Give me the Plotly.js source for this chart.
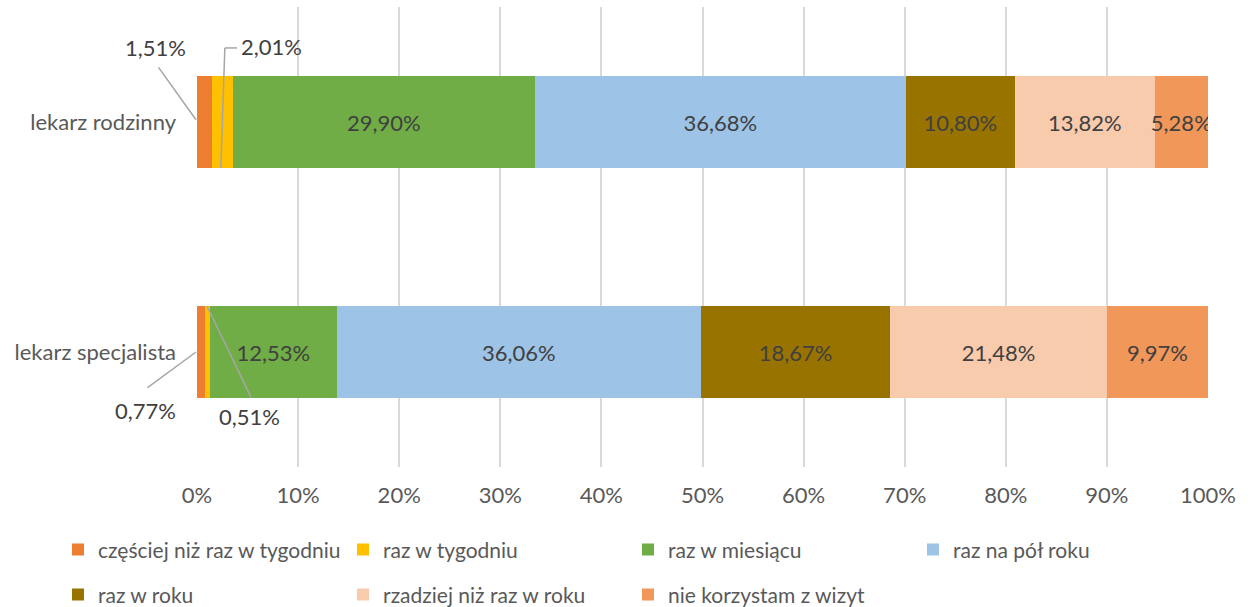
<!DOCTYPE html>
<html>
<head>
<meta charset="utf-8">
<script src="https://cdn.plot.ly/plotly-3.0.1.min.js"></script>
<style>
  html, body { margin: 0; padding: 0; background: #fff; }
  #chart { width: 1253px; height: 607px; }
</style>
</head>
<body>
<div id="chart"></div>
<script>
const categories = ['lekarz rodzinny', 'lekarz specjalista'];
const seriesNames = ['częściej niż raz w tygodniu', 'raz w tygodniu', 'raz w miesiącu', 'raz na pół roku', 'raz w roku', 'rzadziej niż raz w roku', 'nie korzystam z wizyt'];
const colors = ['#ED7D31', '#FFC000', '#70AD47', '#9DC3E6', '#997300', '#F8CBAD', '#F1975A'];
const vCzesciej = [1.51, 0.77];
const vTydzien = [2.01, 0.51];
const vMiesiac = [29.90, 12.53];
const vPolRoku = [36.68, 36.06];
const vRok = [10.80, 18.67];
const vRzadziej = [13.82, 21.48];
const vNie = [5.28, 9.97];
const tickVals = [0, 10, 20, 30, 40, 50, 60, 70, 80, 90, 100];
const tickText = ['0%', '10%', '20%', '30%', '40%', '50%', '60%', '70%', '80%', '90%', '100%'];

const series = [vCzesciej, vTydzien, vMiesiac, vPolRoku, vRok, vRzadziej, vNie];
const fmt = v => v.toFixed(2).replace('.', ',') + '%';
const FONT = 'Lato, "Open Sans", sans-serif';
const TXT = '#404040';
const FS = 22;

const traces = series.map((vals, i) => ({
  type: 'bar',
  orientation: 'h',
  name: seriesNames[i],
  y: categories,
  x: vals,
  marker: { color: colors[i], line: { width: 0 } },
  text: vals.map(v => (v >= 2.5 ? fmt(v) : '')),
  textposition: 'inside',
  insidetextanchor: 'middle',
  textangle: 0,
  constraintext: 'none',
  textfont: { family: FONT, size: FS, color: TXT },
  hoverinfo: 'name+x',
  legend: i < 4 ? 'legend' : 'legend2'
}));

// outside labels for the small segments, with leader lines
const LC = '#A6A6A6';
const lineStyle = { color: LC, width: 1.5 };
const cum = (k, j) => series.slice(0, k).reduce((s, a) => s + a[j], 0);
const shapes = [];
const annotations = [];
const lblFont = { family: FONT, size: FS, color: TXT };
const leader = (x, y, ax, ay) => ({ x: x, y: y, xref: 'x', yref: 'y', xshift: -1, text: ' ', font: { size: 1 },
  showarrow: true, arrowhead: 0, arrowwidth: 1.5, arrowcolor: LC, ax: ax, ay: ay,
  standoff: 0, startstandoff: 0, borderpad: 0 });
// 1,51% (top, orange)
annotations.push({ x: cum(0, 0), y: 0, xref: 'x', yref: 'y', text: fmt(vCzesciej[0]), showarrow: false,
  xshift: -42, yshift: 75, font: lblFont });
annotations.push(leader(cum(0, 0), -0.01, -38, -53));
// 2,01% (top, yellow) - bent leader line
const xy = cum(1, 0) + vTydzien[0] * 0.42;
annotations.push({ x: 7.4, y: -0.33, xref: 'x', yref: 'y', text: fmt(vTydzien[0]), showarrow: false, font: lblFont });
shapes.push({ type: 'line', xref: 'x', yref: 'y', x0: xy, y0: 0.2, x1: xy + 0.4, y1: -0.322, line: lineStyle });
shapes.push({ type: 'line', xref: 'x', yref: 'y', x0: xy + 0.4, y0: -0.322, x1: xy + 1.6, y1: -0.322, line: lineStyle });
// 0,77% (bottom, orange)
annotations.push({ x: cum(0, 1), y: 1, xref: 'x', yref: 'y', text: fmt(vCzesciej[1]), showarrow: false,
  xshift: -52, yshift: -58, font: lblFont });
annotations.push(leader(cum(0, 1), 1, -49, 36));
// 0,51% (bottom, yellow)
const xy2 = cum(1, 1) + vTydzien[1] * 0.42;
annotations.push({ x: 5.24, y: 1.28, xref: 'x', yref: 'y', text: fmt(vTydzien[1]), showarrow: false, font: lblFont });
shapes.push({ type: 'line', xref: 'x', yref: 'y', x0: xy2, y0: 0.8, x1: 5.34, y1: 1.196, line: lineStyle });

const legendCommon = {
  orientation: 'h',
  entrywidth: 240,
  entrywidthmode: 'pixels',
  x: -0.1375,
  xanchor: 'left',
  yanchor: 'middle',
  font: { family: FONT, size: 21, color: '#595959' },
  bgcolor: 'rgba(0,0,0,0)',
  traceorder: 'normal',
  itemclick: false,
  itemdoubleclick: false
};

const layout = {
  width: 1253,
  height: 607,
  margin: { l: 197, r: 45, t: 7, b: 140, autoexpand: false },
  paper_bgcolor: '#ffffff',
  plot_bgcolor: '#ffffff',
  barmode: 'stack',
  bargap: 0.6,
  font: { family: FONT, color: '#595959' },
  xaxis: {
    range: [0, 100],
    tickvals: tickVals,
    ticktext: tickText,
    showgrid: true,
    gridcolor: '#D9D9D9',
    gridwidth: 1.5,
    zeroline: false,
    showline: false,
    ticks: '',
    ticklabelstandoff: 13,
    tickfont: { family: FONT, size: FS, color: '#595959' },
    fixedrange: true
  },
  yaxis: {
    type: 'category',
    categoryorder: 'array',
    categoryarray: categories,
    autorange: 'reversed',
    range: [1.5, -0.5],
    showgrid: false,
    zeroline: false,
    showline: false,
    ticks: '',
    ticklabelstandoff: 20,
    tickfont: { family: FONT, size: FS, color: '#595959' },
    fixedrange: true
  },
  showlegend: true,
  legend: Object.assign({}, legendCommon, { y: -0.18 }),
  legend2: Object.assign({}, legendCommon, { y: -0.278 }),
  shapes: shapes,
  annotations: annotations
};

Plotly.newPlot('chart', traces, layout, { displayModeBar: false, responsive: false });
</script>
</body>
</html>
